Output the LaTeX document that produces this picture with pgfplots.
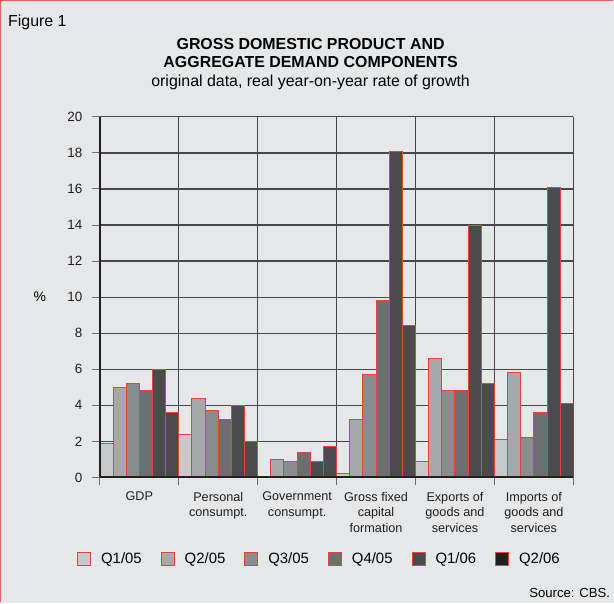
\documentclass[border=0pt]{standalone}
\usepackage{pgfplots}
\usepackage{pgfplotstable}
\pgfplotsset{compat=1.18}
\usepackage{fontspec}
\setmainfont{Liberation Sans}
\definecolor{bg}{HTML}{E6E7E8}
\definecolor{cA}{HTML}{C8C9CA}
\definecolor{cB}{HTML}{A7A8AA}
\definecolor{cC}{HTML}{8B8C8E}
\definecolor{cD}{HTML}{6D6E70}
\definecolor{cE}{HTML}{4B4B4D}
\definecolor{cF}{HTML}{231F20}
\definecolor{edge}{HTML}{E8413B}
\definecolor{framec}{HTML}{E06666}
\definecolor{gridc}{HTML}{48484A}
\pagecolor{bg}

\pgfplotstableread{
cat qa qb qc qd qe qf
GDP  1.9 5.0 5.2 4.8 6.0 3.6
Pers 2.4 4.4 3.7 3.2 4.0 2.0
Gov  0.0 1.0 0.9 1.4 0.9 1.7
GFCF 0.2 3.2 5.7 9.8 18.1 8.4
Exp  0.9 6.6 4.8 4.8 14.0 5.2
Imp  2.1 5.8 2.2 3.6 16.1 4.1
}\datatable

\pgfplotsset{
  layers/barsbelowaxis/.define layer set={
    axis background,axis grid,main,axis ticks,axis lines,axis tick labels,axis descriptions,axis foreground
  }{
    grid style={/pgfplots/on layer=axis grid},
    tick style={/pgfplots/on layer=axis ticks},
    axis line style={/pgfplots/on layer=axis lines},
    label style={/pgfplots/on layer=axis descriptions},
    legend style={/pgfplots/on layer=axis descriptions},
    title style={/pgfplots/on layer=axis descriptions},
    colorbar style={/pgfplots/on layer=axis descriptions},
    ticklabel style={/pgfplots/on layer=axis tick labels},
    axis background@ style={/pgfplots/on layer=axis background},
    3d box foreground style={/pgfplots/on layer=axis foreground},
  },
  mybar/.style={ybar, bar shift=0pt, bar width=0.16667, draw=edge, line width=1bp, forget plot},
}

\begin{document}
\begin{tikzpicture}
\path (0bp,0bp) rectangle (614bp,603bp);
\draw[framec, line width=1.5bp] (0.75bp,0bp) -- (0.75bp,602.25bp) -- (614bp,602.25bp);
\node[anchor=base west, inner sep=0pt, font=\fontsize{16}{19}\selectfont] at (8bp,576bp) {Figure 1};
\node[anchor=base, inner sep=0pt, font=\bfseries\fontsize{16}{19}\selectfont] at (311bp,553.5bp) {GROSS DOMESTIC PRODUCT AND};
\node[anchor=base, inner sep=0pt, font=\bfseries\fontsize{16}{19}\selectfont] at (311bp,535.5bp) {AGGREGATE DEMAND COMPONENTS};
\node[anchor=base, inner sep=0pt, font=\fontsize{16}{19}\selectfont] at (311bp,516bp) {original data, real year-on-year rate of growth};
\node[anchor=base east, inner sep=0pt, font=\fontsize{13.2}{16}\selectfont] at (611bp,5bp) {Source: CBS.};
\begin{axis}[
  set layers=barsbelowaxis,
  at={(100bp,125bp)}, anchor=south west, scale only axis,
  width=474bp, height=361bp,
  xmin=0, xmax=6, ymin=0, ymax=20,
  axis lines=left,
  axis line style={-, draw=cF, line width=2bp},
  ytick={0,2,...,20},
  xtick={0,1,...,6},
  xticklabels={},
  extra x ticks={0.5,1.5,2.5,3.5,4.5,5.5},
  extra x tick labels={GDP,{Personal\\consumpt.},{Government\\consumpt.},{Gross fixed\\capital\\formation},{Exports of\\goods and\\services},{Imports of\\goods and\\services}},
  extra x tick style={major tick length=0pt, grid=none},
  xticklabel style={align=center, font=\fontsize{12.7}{16}\selectfont, text=cF, yshift=-11bp},
  yticklabel style={font=\fontsize{13.5}{16}\selectfont, text=cF, xshift=-6bp},
  /pgf/number format/assume math mode=true,
  tick align=outside,
  major tick length=8bp,
  tick style={draw=cD, line width=1bp},
  grid=major,
  grid style={draw=gridc, line width=1.2bp},
  ylabel={\%},
  ylabel style={rotate=-90, at={(axis description cs:-0.127,0.5)}, anchor=center, font=\fontsize{14}{16}\selectfont},
  legend columns=6,
  legend image code/.code={\draw[#1, line width=1bp] (0bp,-6.5bp) rectangle (13bp,6.5bp);},
  legend style={at={(axis description cs:-0.0485,-0.2271)}, anchor=west, draw=none, fill=none, inner sep=0pt,
    font=\fontsize{15}{18}\selectfont,
    nodes={inner sep=0pt},
    /tikz/every odd column/.append style={column sep=10bp},
    /tikz/every even column/.append style={column sep=19bp}},
]
\addplot[mybar, fill=cA] table[x expr=\coordindex+0.08333, y=qa] {\datatable};
\addplot[mybar, fill=cB] table[x expr=\coordindex+0.25, y=qb] {\datatable};
\addplot[mybar, fill=cC] table[x expr=\coordindex+0.41667, y=qc] {\datatable};
\addplot[mybar, fill=cD] table[x expr=\coordindex+0.58333, y=qd] {\datatable};
\addplot[mybar, fill=cE] table[x expr=\coordindex+0.75, y=qe] {\datatable};
\addplot[mybar, fill=cE] table[x expr=\coordindex+0.91667, y=qf] {\datatable};
\addlegendimage{fill=cA, draw=edge}
\addlegendimage{fill=cB, draw=edge}
\addlegendimage{fill=cC, draw=edge}
\addlegendimage{fill=cD, draw=edge}
\addlegendimage{fill=cE, draw=edge}
\addlegendimage{fill=cF, draw=edge}
\legend{Q1/05,Q2/05,Q3/05,Q4/05,Q1/06,Q2/06}
\end{axis}
\end{tikzpicture}
\end{document}
